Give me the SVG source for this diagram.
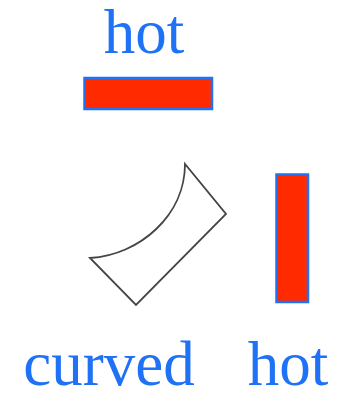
<svg xmlns="http://www.w3.org/2000/svg" width="350" height="394" viewBox="0 0 350 394">
<style>
.lbl{font-family:"Liberation Serif","Times New Roman",serif;font-size:63px;fill:#1f72f5;text-anchor:middle}
.hot{fill:#ff2a00;stroke:#1f72f5;stroke-width:2.5}
.shape{fill:#fff;stroke:#444;stroke-width:1.8;stroke-linejoin:miter}
</style>
<rect width="350" height="394" fill="#fff"/>
<g id="top-hot">
<text class="lbl" x="144" y="53">hot</text>
<rect class="hot" x="84.5" y="78" width="127.5" height="31"/>
</g>
<g id="curved">
<path class="shape" d="M90,258 C140,255 185,215 185,164 L226,214 L136,305 Z"/>
<text class="lbl" x="109" y="385">curved</text>
</g>
<g id="right-hot">
<rect class="hot" x="276.5" y="174.5" width="31.5" height="127.5"/>
<text class="lbl" x="288" y="385">hot</text>
</g>
<g id="connectors"/>
</svg>
